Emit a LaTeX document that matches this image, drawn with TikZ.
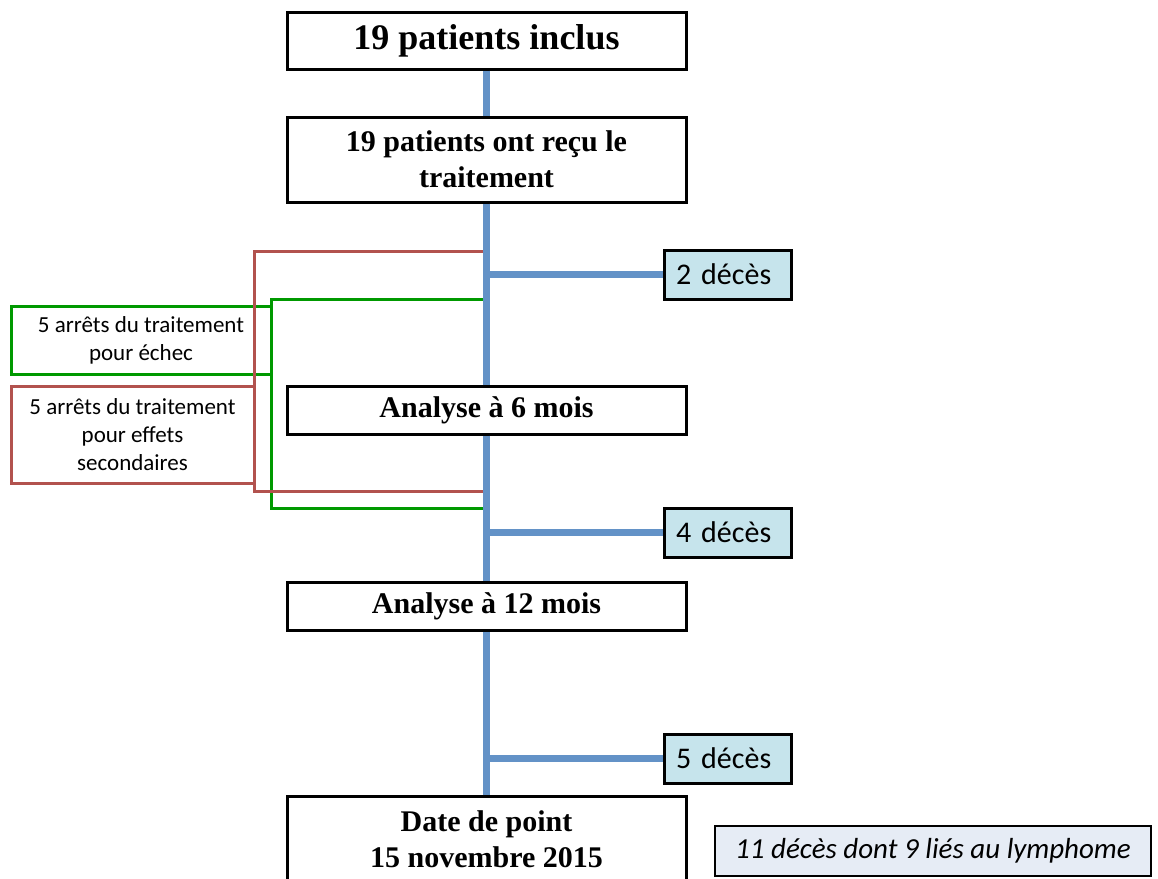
\documentclass[tikz,border=0pt]{standalone}
\usepackage{fontspec}
\setmainfont{Liberation Serif}
\newfontfamily\calib{Carlito}
\definecolor{flowblue}{RGB}{99,146,199}
\definecolor{brred}{RGB}{178,82,78}
\definecolor{brgreen}{RGB}{0,153,0}
\definecolor{decfill}{RGB}{198,228,236}
\definecolor{totfill}{RGB}{230,236,245}
\begin{document}
\begin{tikzpicture}[x=1pt,y=-1pt,
  mainbox/.style={draw=black, line width=3pt, fill=white, minimum width=399pt, align=center, inner sep=0pt, font=\bfseries\fontsize{30}{36}\selectfont},
  decbox/.style={draw=black, line width=3pt, fill=decfill, minimum width=127pt, minimum height=49pt, text width=103pt, inner xsep=12pt, inner ysep=0pt, align=left, font=\calib\fontsize{30}{36}\selectfont},
  sidebox/.style={line width=3pt, outer sep=0pt, align=center, inner sep=0pt, font=\calib\fontsize{23}{28}\selectfont},
  totbox/.style={draw=black, line width=2pt, fill=totfill, minimum width=436pt, minimum height=50pt, inner sep=0pt, font=\calib\itshape\fontsize{29}{35}\selectfont},
  flow/.style={draw=flowblue, line width=7pt},
  redline/.style={draw=brred, line width=3pt},
  greenline/.style={draw=brgreen, line width=3pt}
]
\path[use as bounding box] (0,0) rectangle (1158,878);
\clip (0,0) rectangle (1158,878);
\fill[white] (0,0) rectangle (1158,878);

% main boxes
\node[mainbox, minimum height=57pt, font=\bfseries\fontsize{36}{43}\selectfont] (b1) at (486.5,40.5) {19 patients inclus};
\node[mainbox, minimum height=85pt] (b2) at (486.5,159.5) {19 patients ont reçu le\\traitement};
\node[mainbox, minimum height=48pt] (a6) at (486.5,410) {Analyse à 6 mois};
\node[mainbox, minimum height=48pt] (a12) at (486.5,606.5) {Analyse à 12 mois};
\node[mainbox, minimum height=86pt] (dp) at (486.5,839) {Date de point\\15 novembre 2015};

% deaths
\node[decbox] (d1) at (727.5,274.5) {2 décès};
\node[decbox] (d2) at (727.5,532.5) {4 décès};
\node[decbox] (d3) at (727.5,758.5) {5 décès};

% side boxes
\node[sidebox, draw=brgreen, minimum width=260pt, minimum height=68pt] (gbox) at (141,340) {5 arrêts du traitement\\pour échec};
\node[sidebox, draw=brred, minimum width=243pt, minimum height=97pt] (rbox) at (132.5,434.5) {5 arrêts du traitement\\pour effets\\secondaires};

% total
\node[totbox] (tot) at (933,851) {11 décès dont 9 liés au lymphome};

% bracket coordinates on the main line
\coordinate (gt) at (486.5,299);
\coordinate (gb) at (486.5,508);
\coordinate (rt) at (486.5,251);
\coordinate (rb) at (486.5,491);

\draw[greenline] (gt) -| (gbox.north east) -- (gbox.east |- gb) -- (gb);
\draw[redline] (rt) -| (rbox.north east) -- (rbox.east |- rb) -- (rb);

% main flow
\draw[flow] (b1) -- (b2);
\draw[flow] (b2) -- (a6);
\draw[flow] (a6) -- (a12);
\draw[flow] (a12) -- (dp);
\draw[flow] (b2.south |- d1.west) -- (d1.west);
\draw[flow] (b2.south |- d2.west) -- (d2.west);
\draw[flow] (b2.south |- d3.west) -- (d3.west);
\end{tikzpicture}
\end{document}
